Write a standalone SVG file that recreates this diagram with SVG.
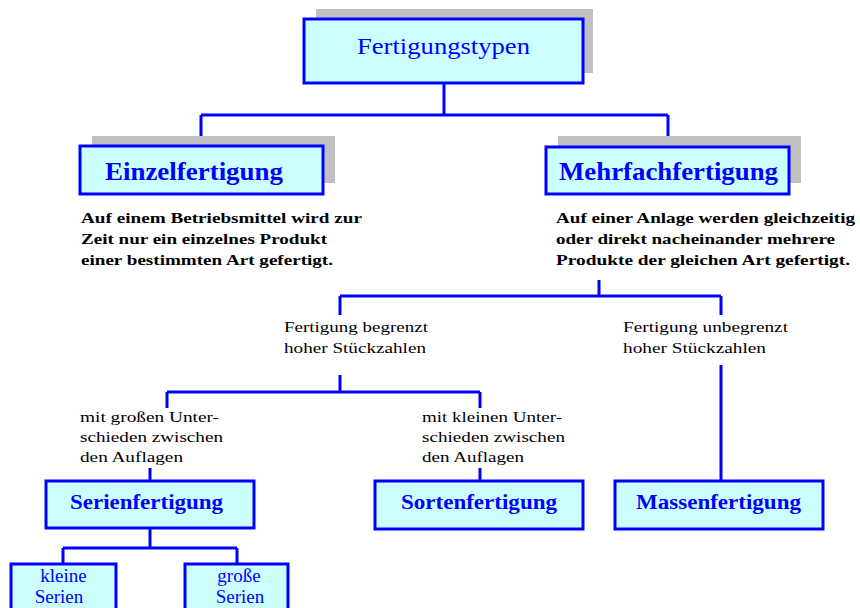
<svg xmlns="http://www.w3.org/2000/svg" width="860" height="608" viewBox="0 0 860 608">
<style>
.shadow{fill:#c0c0c0;stroke:none}
.box{fill:#ccffff;stroke:#0000ff;stroke-width:3}
.lbl{font-family:"Liberation Serif","Times New Roman",serif;fill:#0000ff}
.b{font-weight:bold}
.desc{font-family:"Liberation Serif","Times New Roman",serif;font-weight:bold;font-size:15px;fill:#000}
.note{font-family:"Liberation Serif","Times New Roman",serif;font-size:15px;fill:#000}
.con{fill:none;stroke:#0000ff;stroke-width:3}
</style>
<rect width="860" height="608" fill="#fff"/>
<g id="connectors">
<path class="con" d="M444,83 V115 M201,115 H668 M201,115 V146 M668,115 V147"/>
<path class="con" d="M599,280 V296 M340,296 H721 M340,296 V315 M721,296 V315"/>
<path class="con" d="M340,375 V392 M167,392 H480 M167,392 V408 M480,392 V408"/>
<path class="con" d="M150,468 V481 M480,468 V481 M721,365 V481"/>
<path class="con" d="M150,529 V548 M63,548 H237 M63,548 V564 M237,548 V564"/>
</g>
<g id="fertigungstypen">
<rect class="shadow" x="316" y="9" width="277" height="64"/>
<rect class="box" x="304" y="19" width="279" height="64"/>
<text class="lbl" x="357" y="54" font-size="24" textLength="173" lengthAdjust="spacingAndGlyphs">Fertigungstypen</text>
</g>
<g id="einzelfertigung">
<rect class="shadow" x="92" y="136" width="243" height="47"/>
<rect class="box" x="80" y="146" width="243" height="48"/>
<text class="lbl b" x="105" y="180" font-size="25" textLength="178" lengthAdjust="spacingAndGlyphs">Einzelfertigung</text>
</g>
<g id="einzel-text">
<text class="desc" x="81" y="223" textLength="281" lengthAdjust="spacingAndGlyphs">Auf einem Betriebsmittel wird zur</text>
<text class="desc" x="81" y="244" textLength="246" lengthAdjust="spacingAndGlyphs">Zeit nur ein einzelnes Produkt</text>
<text class="desc" x="81" y="265" textLength="252" lengthAdjust="spacingAndGlyphs">einer bestimmten Art gefertigt.</text>
</g>
<g id="mehrfachfertigung">
<rect class="shadow" x="558" y="136" width="243" height="47"/>
<rect class="box" x="546" y="147" width="243" height="47"/>
<text class="lbl b" x="559" y="180" font-size="25" textLength="219" lengthAdjust="spacingAndGlyphs">Mehrfachfertigung</text>
</g>
<g id="mehrfach-text">
<text class="desc" x="556" y="223" textLength="299" lengthAdjust="spacingAndGlyphs">Auf einer Anlage werden gleichzeitig</text>
<text class="desc" x="556" y="244" textLength="279" lengthAdjust="spacingAndGlyphs">oder direkt nacheinander mehrere</text>
<text class="desc" x="556" y="265" textLength="294" lengthAdjust="spacingAndGlyphs">Produkte der gleichen Art gefertigt.</text>
</g>
<g id="begrenzt">
<text class="note" x="284" y="332" textLength="144" lengthAdjust="spacingAndGlyphs">Fertigung begrenzt</text>
<text class="note" x="284" y="353" textLength="142" lengthAdjust="spacingAndGlyphs">hoher Stückzahlen</text>
</g>
<g id="unbegrenzt">
<text class="note" x="623" y="332" textLength="165" lengthAdjust="spacingAndGlyphs">Fertigung unbegrenzt</text>
<text class="note" x="623" y="353" textLength="143" lengthAdjust="spacingAndGlyphs">hoher Stückzahlen</text>
</g>
<g id="grosse-unterschiede">
<text class="note" x="80" y="422" textLength="139" lengthAdjust="spacingAndGlyphs">mit großen Unter-</text>
<text class="note" x="80" y="442" textLength="143" lengthAdjust="spacingAndGlyphs">schieden zwischen</text>
<text class="note" x="80" y="462" textLength="103" lengthAdjust="spacingAndGlyphs">den Auflagen</text>
</g>
<g id="kleine-unterschiede">
<text class="note" x="422" y="422" textLength="140" lengthAdjust="spacingAndGlyphs">mit kleinen Unter-</text>
<text class="note" x="422" y="442" textLength="143" lengthAdjust="spacingAndGlyphs">schieden zwischen</text>
<text class="note" x="422" y="462" textLength="102" lengthAdjust="spacingAndGlyphs">den Auflagen</text>
</g>
<g id="serienfertigung">
<rect class="box" x="46" y="481" width="208" height="47"/>
<text class="lbl b" x="70" y="509" font-size="20" textLength="153" lengthAdjust="spacingAndGlyphs">Serienfertigung</text>
</g>
<g id="sortenfertigung">
<rect class="box" x="375" y="481" width="208" height="48"/>
<text class="lbl b" x="401" y="509" font-size="20" textLength="156" lengthAdjust="spacingAndGlyphs">Sortenfertigung</text>
</g>
<g id="massenfertigung">
<rect class="box" x="615" y="481" width="208" height="48"/>
<text class="lbl b" x="636" y="509" font-size="20" textLength="165" lengthAdjust="spacingAndGlyphs">Massenfertigung</text>
</g>
<g id="kleine-serien">
<rect class="box" x="11" y="564" width="105" height="60"/>
<text class="lbl" x="63.5" y="582" font-size="19" text-anchor="middle">kleine</text>
<text class="lbl" x="59" y="603" font-size="19" text-anchor="middle">Serien</text>
</g>
<g id="grosse-serien">
<rect class="box" x="185" y="564" width="103" height="60"/>
<text class="lbl" x="239" y="582" font-size="19" text-anchor="middle">große</text>
<text class="lbl" x="240" y="603" font-size="19" text-anchor="middle">Serien</text>
</g>
</svg>
